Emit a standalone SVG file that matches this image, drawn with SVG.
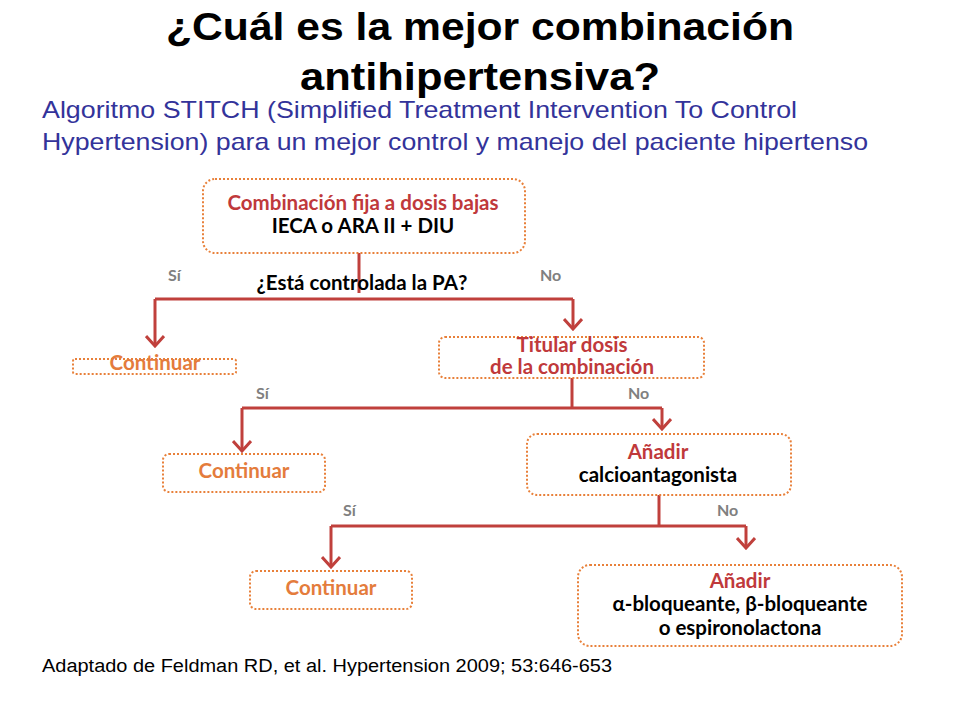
<svg xmlns="http://www.w3.org/2000/svg" width="960" height="720" viewBox="0 0 960 720">
<defs>
<style>
.title{font-family:"Liberation Sans",Arial,sans-serif;font-weight:bold;font-size:38px;fill:#000;text-anchor:middle}
.sub{font-family:"Liberation Sans",Arial,sans-serif;font-size:24px;fill:#33339A}
.foot{font-family:"Liberation Sans",Arial,sans-serif;font-size:18px;fill:#000}
.box{fill:#fff;stroke:#E8803A;stroke-width:2;stroke-dasharray:2 2}
.t{font-family:Lato,"Open Sans",sans-serif;font-weight:bold;font-size:20.5px;text-anchor:middle}
.red{fill:#C0393B}
.blk{fill:#000}
.org{fill:#E47C3C}
.lbl{font-family:Lato,"Open Sans",sans-serif;font-weight:bold;font-size:16px;fill:#808080}
.ln{fill:none;stroke:#C0403C;stroke-width:3}
</style>
<marker id="ah" viewBox="0 0 14 20" refX="12" refY="10" markerWidth="14" markerHeight="20" markerUnits="userSpaceOnUse" orient="auto">
<path d="M2,1 L12,10 L2,19" fill="none" stroke="#C0403C" stroke-width="3"/>
</marker>
</defs>
<rect width="960" height="720" fill="#fff"/>
<text class="title" x="480" y="40" textLength="628" lengthAdjust="spacingAndGlyphs">¿Cuál es la mejor combinación</text>
<text class="title" x="480" y="90" textLength="360" lengthAdjust="spacingAndGlyphs">antihipertensiva?</text>
<text class="sub" x="42" y="118" textLength="755" lengthAdjust="spacingAndGlyphs">Algoritmo STITCH (Simplified Treatment Intervention To Control</text>
<text class="sub" x="42" y="150" textLength="826" lengthAdjust="spacingAndGlyphs">Hypertension) para un mejor control y manejo del paciente hipertenso</text>

<g id="connectors">
<line class="ln" x1="359" y1="248" x2="359" y2="293"/>
<line class="ln" x1="155" y1="299" x2="573" y2="299"/>
<line class="ln" x1="155" y1="299" x2="155" y2="346" marker-end="url(#ah)"/>
<line class="ln" x1="573" y1="299" x2="573" y2="329" marker-end="url(#ah)"/>
<line class="ln" x1="572" y1="378" x2="572" y2="408"/>
<line class="ln" x1="242" y1="408" x2="662" y2="408"/>
<line class="ln" x1="242" y1="408" x2="242" y2="451" marker-end="url(#ah)"/>
<line class="ln" x1="662" y1="408" x2="662" y2="429" marker-end="url(#ah)"/>
<line class="ln" x1="659" y1="495" x2="659" y2="526"/>
<line class="ln" x1="331" y1="526" x2="746" y2="526"/>
<line class="ln" x1="331" y1="526" x2="331" y2="567" marker-end="url(#ah)"/>
<line class="ln" x1="746" y1="526" x2="746" y2="548" marker-end="url(#ah)"/>
</g>

<g id="start">
<rect class="box" x="203" y="179" width="322" height="74" rx="12"/>
<text class="t red" x="363" y="210">Combinación fija a dosis bajas</text>
<text class="t blk" x="363" y="233">IECA o ARA II + DIU</text>
</g>
<g id="question">
<text class="t blk" x="362" y="290">¿Está controlada la PA?</text>
<text class="lbl" x="168" y="281">Sí</text>
<text class="lbl" x="540" y="281">No</text>
</g>
<g id="continuar1">
<rect class="box" x="73" y="359" width="163" height="15" rx="2"/>
<text class="t org" x="155" y="370">Continuar</text>
</g>
<g id="titular">
<rect class="box" x="439" y="337" width="265" height="41" rx="6"/>
<text class="t red" x="572" y="352">Titular dosis</text>
<text class="t red" x="572" y="374">de la combinación</text>
<text class="lbl" x="256" y="399">Sí</text>
<text class="lbl" x="628" y="399">No</text>
</g>
<g id="continuar2">
<rect class="box" x="163" y="454" width="162" height="38" rx="6"/>
<text class="t org" x="244" y="478">Continuar</text>
</g>
<g id="calcio">
<rect class="box" x="527" y="434" width="264" height="61" rx="10"/>
<text class="t red" x="658" y="459">Añadir</text>
<text class="t blk" x="658" y="482">calcioantagonista</text>
<text class="lbl" x="343" y="516">Sí</text>
<text class="lbl" x="717" y="516">No</text>
</g>
<g id="continuar3">
<rect class="box" x="250" y="571" width="162" height="38" rx="6"/>
<text class="t org" x="331" y="595">Continuar</text>
</g>
<g id="final">
<rect class="box" x="578" y="565" width="324" height="81" rx="12"/>
<text class="t red" x="740" y="588">Añadir</text>
<text class="t blk" x="740" y="611">α-bloqueante, β-bloqueante</text>
<text class="t blk" x="740" y="635">o espironolactona</text>
</g>
<text class="foot" x="42" y="672" textLength="570" lengthAdjust="spacingAndGlyphs">Adaptado de Feldman RD, et al. Hypertension 2009; 53:646-653</text>
</svg>
